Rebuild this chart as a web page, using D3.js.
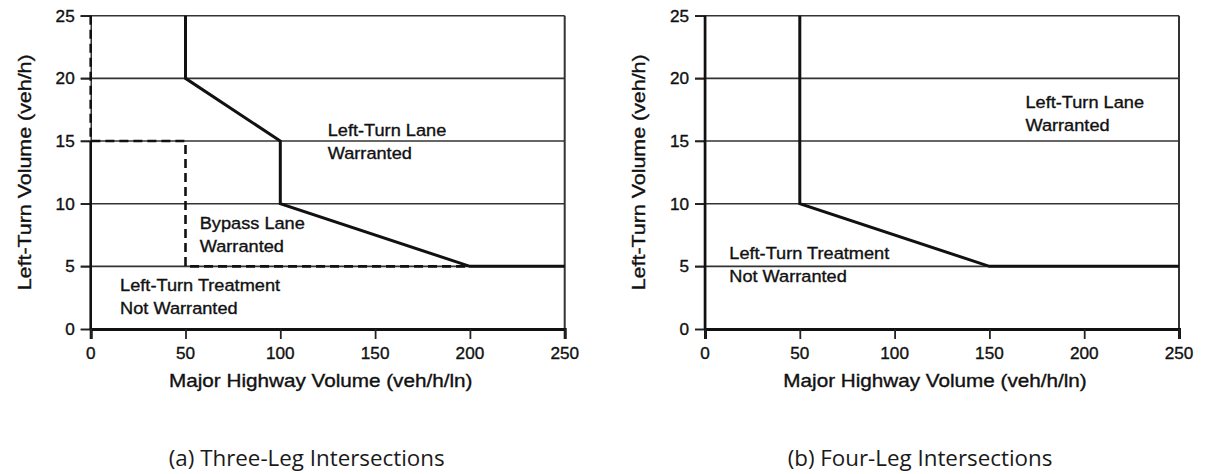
<!DOCTYPE html>
<html>
<head>
<meta charset="utf-8">
<script src="https://cdn.jsdelivr.net/npm/d3@7"></script>
<style>
  html, body { margin: 0; padding: 0; background: #fff; }
  svg { display: block; }
</style>
</head>
<body>
<svg id="chart" width="1205" height="474"></svg>
<script>
// ---------- data ----------
const xTicks = [0, 50, 100, 150, 200, 250];
const yTicks = [0, 5, 10, 15, 20, 25];
const xDomain = [0, 250];
const yDomain = [0, 25];

// (a) three-leg: solid warrant boundary and dashed bypass-lane boundary
const threeLegBoundaryX = [50, 50, 100, 100, 200, 250];
const threeLegBoundaryY = [25, 20, 15, 10, 5, 5];
const threeLegBypassX = [0, 0, 50, 50, 200];
const threeLegBypassY = [25, 15, 15, 5, 5];
const threeLegSolidAxis = [0, 15];

// (b) four-leg: solid warrant boundary
const fourLegBoundaryX = [50, 50, 150, 250];
const fourLegBoundaryY = [25, 10, 5, 5];
const fourLegSolidAxis = [0, 25];

const xTitle = "Major Highway Volume (veh/h/ln)";
const yTitle = "Left-Turn Volume (veh/h)";
const captions = ["(a) Three-Leg Intersections", "(b) Four-Leg Intersections"];

// region labels: [lines], anchor in data coords
const threeLegLabels = [
  { lines: ["Left-Turn Lane", "Warranted"], x: 125, y: 15.4 },
  { lines: ["Bypass Lane", "Warranted"], x: 57.5, y: 8.0 },
  { lines: ["Left-Turn Treatment", "Not Warranted"], x: 15.5, y: 3.0 }
];
const fourLegLabels = [
  { lines: ["Left-Turn Lane", "Warranted"], x: 169, y: 17.6 },
  { lines: ["Left-Turn Treatment", "Not Warranted"], x: 12.8, y: 5.6 }
];

// ---------- layout ----------
const plotW = 474, plotH = 313.3, plotTop = 15.7;
const panels = [
  { left: 90.7, boundary: [threeLegBoundaryX, threeLegBoundaryY],
    dashed: [threeLegBypassX, threeLegBypassY], solidAxis: threeLegSolidAxis,
    labels: threeLegLabels, caption: captions[0], capDx: -21 },
  { left: 705, boundary: [fourLegBoundaryX, fourLegBoundaryY],
    dashed: null, solidAxis: fourLegSolidAxis,
    labels: fourLegLabels, caption: captions[1], capDx: -22 }
];

const svg = d3.select("#chart");
const FONT = "'Liberation Sans', Arial, Helvetica, sans-serif";

function stretchedText(g, x, y, str, opts) {
  const sx = opts.sx || 1;
  const rot = opts.rotate || 0;
  const fill = opts.fill || "#111";
  const grp = g.append("g")
    .attr("transform", `translate(${x},${y}) rotate(${rot}) scale(${sx},1)`);
  grp.append("text")
    .attr("x", 0).attr("y", 0)
    .attr("text-anchor", opts.anchor || "start")
    .attr("font-family", opts.family || FONT)
    .attr("font-size", opts.size)
    .attr("font-weight", opts.weight || "normal")
    .attr("fill", fill)
    .attr("stroke", opts.bold === false ? "none" : fill)
    .attr("stroke-width", opts.bold === false ? 0 : 0.35)
    .text(str);
  return grp;
}

panels.forEach(p => {
  const g = svg.append("g").attr("transform", `translate(${p.left},${plotTop})`);
  const x = d3.scaleLinear().domain(xDomain).range([0, plotW]);
  const y = d3.scaleLinear().domain(yDomain).range([plotH, 0]);

  // horizontal grid lines (extend over tick length)
  g.append("g").selectAll("line")
    .data(yTicks.filter(v => v > 0))
    .join("line")
    .attr("x1", -10).attr("x2", x(250))
    .attr("y1", d => y(d)).attr("y2", d => y(d))
    .attr("stroke", "#333").attr("stroke-width", 1.6);

  // y axis
  const yAxis = d3.axisLeft(y).tickValues(yTicks).tickSize(10).tickPadding(6);
  const ya = g.append("g").call(yAxis);
  ya.select(".domain").attr("stroke", "#222").attr("stroke-width", 1.4);
  ya.selectAll(".tick line").attr("stroke", "#222").attr("stroke-width", 1.6);
  ya.selectAll(".tick text").remove();
  yTicks.forEach(v => {
    stretchedText(g, -16, y(v) + 6, String(v), { size: 16.5, sx: 1.04, anchor: "end" });
  });

  // thicker solid portion of the y axis
  g.append("line")
    .attr("x1", x(0)).attr("x2", x(0))
    .attr("y1", y(p.solidAxis[0])).attr("y2", y(p.solidAxis[1]))
    .attr("stroke", "#111").attr("stroke-width", 2.6);

  // right border
  g.append("line")
    .attr("x1", x(250)).attr("x2", x(250))
    .attr("y1", y(0)).attr("y2", y(25))
    .attr("stroke", "#333").attr("stroke-width", 2);

  // x axis
  const xAxis = d3.axisBottom(x).tickValues(xTicks).tickSize(10).tickPadding(6);
  const xa = g.append("g").attr("transform", `translate(0,${plotH})`).call(xAxis);
  xa.select(".domain").attr("stroke", "#111").attr("stroke-width", 3);
  xa.selectAll(".tick line").attr("stroke", "#222").attr("stroke-width", 1.8);
  xa.selectAll(".tick text").remove();
  xTicks.forEach(v => {
    stretchedText(g, x(v), plotH + 30, String(v), { size: 16.5, sx: 1.04, anchor: "middle" });
  });

  // dashed bypass boundary
  const line = d3.line().x(d => x(d[0])).y(d => y(d[1]));
  if (p.dashed) {
    const pts = p.dashed[0].map((v, i) => [v, p.dashed[1][i]]);
    g.append("path").datum(pts)
      .attr("d", line)
      .attr("fill", "none").attr("stroke", "#111")
      .attr("stroke-width", 2.6).attr("stroke-dasharray", "9,5");
  }

  // solid warrant boundary
  const bpts = p.boundary[0].map((v, i) => [v, p.boundary[1][i]]);
  g.append("path").datum(bpts)
    .attr("d", line)
    .attr("fill", "none").attr("stroke", "#111")
    .attr("stroke-width", 3).attr("stroke-linejoin", "miter");

  // region labels
  p.labels.forEach(l => {
    l.lines.forEach((s, i) => {
      stretchedText(g, x(l.x), y(l.y) + i * 23, s, { size: 17, sx: 1.07 });
    });
  });

  // axis titles
  stretchedText(g, plotW / 2 - 7, plotH + 58, xTitle, { size: 18, sx: 1.15, anchor: "middle" });
  stretchedText(g, -60, plotH / 2, yTitle, { size: 18, sx: 1.19, anchor: "middle", rotate: -90 });

  // caption
  stretchedText(g, plotW / 2 + p.capDx, 466 - plotTop, p.caption,
    { size: 21.5, sx: 1.04, anchor: "middle", family: "'Open Sans', 'Noto Sans', sans-serif",
      fill: "#1a1a1a", bold: false });
});
</script>
</body>
</html>
